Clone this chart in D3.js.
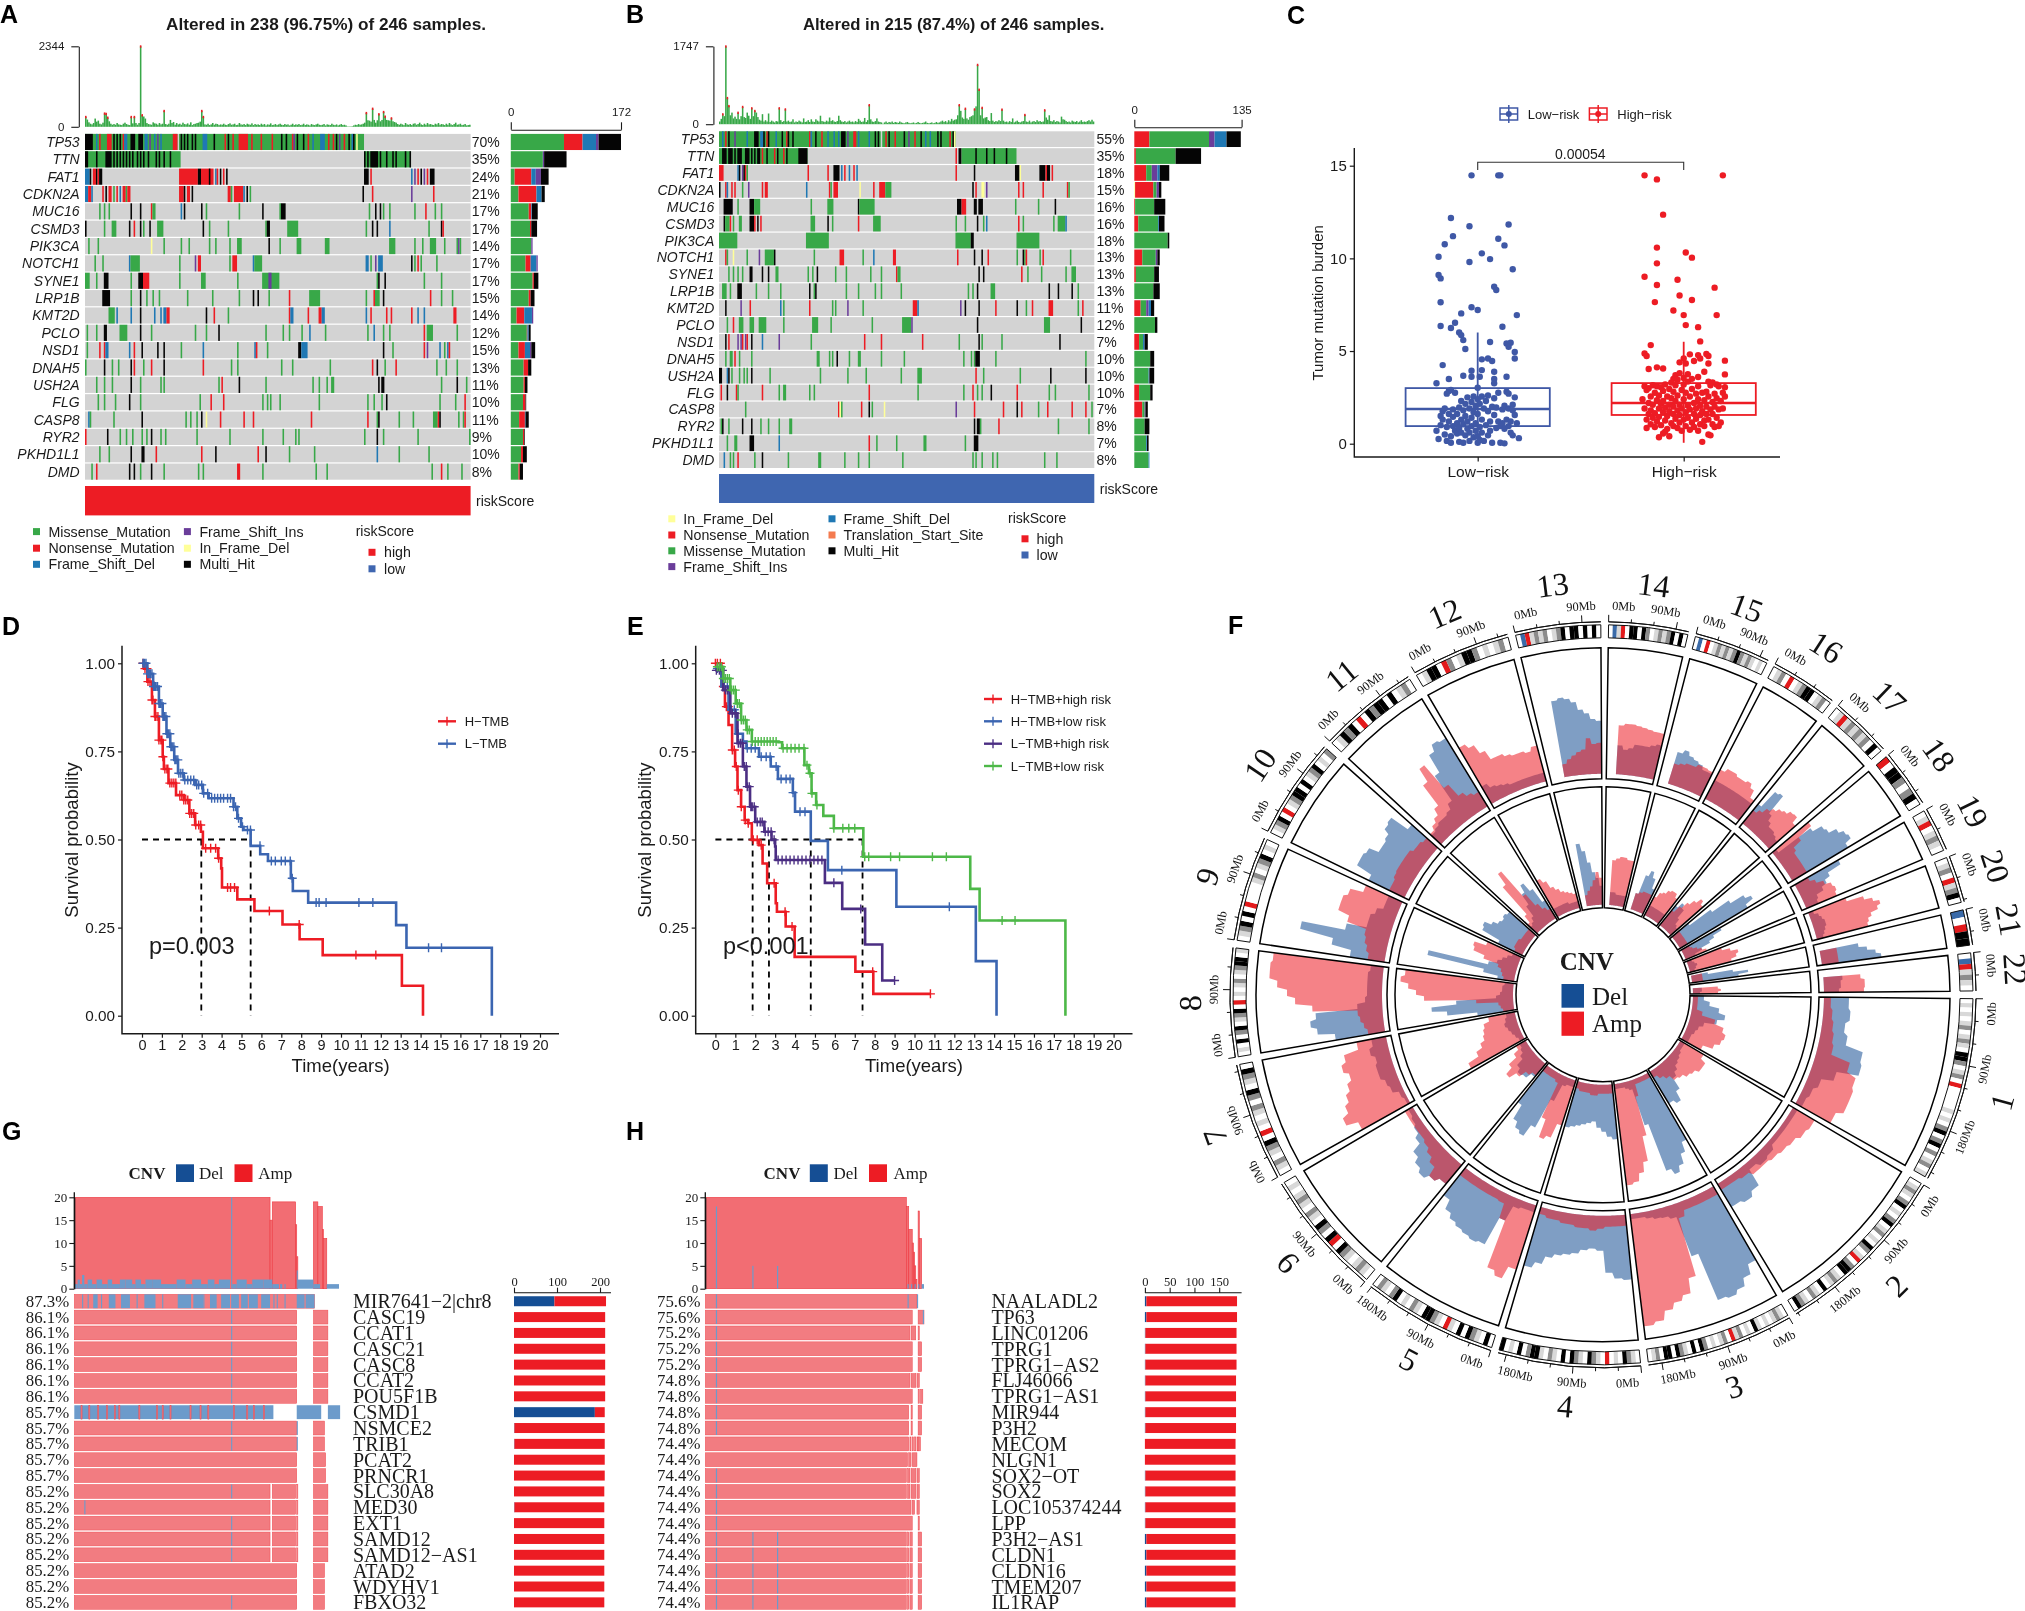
<!DOCTYPE html>
<html>
<head>
<meta charset="utf-8">
<script src="https://cdn.jsdelivr.net/npm/d3@7"></script>
<style>
  html, body { margin: 0; padding: 0; background: #fff; }
  svg { display: block; filter: blur(0.4px); }
</style>
</head>
<body>
<div id="frame_div"></div>
<script>
// Multi panel figure: oncoplots (A,B), TMB box (C), survival (D,E), circos CNV (F), CNV matrices (G,H)

const SANS = "'Liberation Sans', Arial, sans-serif";
const SERIF = "'Liberation Serif', 'Times New Roman', serif";

// ---------- panel A / B data ----------
const genesA = ["TP53","TTN","FAT1","CDKN2A","MUC16","CSMD3","PIK3CA","NOTCH1","SYNE1","LRP1B","KMT2D","PCLO","NSD1","DNAH5","USH2A","FLG","CASP8","RYR2","PKHD1L1","DMD"];
const pctA = [70,35,24,21,17,17,14,17,17,15,14,12,15,13,11,10,11,9,10,8];
const pctB = [55,35,18,15,16,16,18,13,13,13,11,12,7,10,10,10,7,8,7,8];

// type letter + sample index (or range): m missense, n nonsense, b fs del, p fs ins, y in frame del, k multi hit
const onco_A = [
  "m0-58 m60-177 k0-4 b7 n9 n14-16 k18 k20 k22 n24 b25-26 k29-31 k34-36 b38-39 p41 b44 p46 b48 n56-58 k61 k63 k65 k68 k70 b75-77 k82 n89 k91 n94 n98-103 n106 n112 n119 k125 k128 n132 p133 k135 k139 n142 b145 b150-152 n155 n158 k160 p162 n165 k168 b170 k171 y173",
  "m0-60 k0-1 k7 k13-16 k18 k20 k22 k24 k26 k28 k30 k33 k35 k37 k40 k45 k47 k50 k54 m178-207 k178 k180 k182-186 k188 k192 k196 k198 k204 k207",
  "b0-2 k3 n5-6 k7 n8 k9-10 n60-71 k72-73 n74-81 k79 b83 n84 k86 n88 k90 k178-180 n182 b208 p210 n212 k214 p216 n218 k220-222",
  "b0-1 n2-3 b4 n11 k13 n15-16 m18 n20 b22 n24-25 m26 n27-28 n60-62 k63 n65-66 k68 n91-92 m93 n95-100 b101 k103 m105 k177 n183 p208 n222",
  "m9 m12 m15 k29 k35 n42 m43-44 b61 k63 k74 m77 m98 k113 m124 k125-127 m181 k185 k188 m190 m194 m210 n217 m223 m227",
  "k0 m12 m17-19 k28 n31 k35 m37 k41 m46-49 k75 m79 m91 m115 k116-117 m129-135 m179 k183 k186 b194 m219 k227 n228",
  "m2 m8 y42 m50 m61 m66 m79 m83 m92 m97-99 k117 m124 m135-137 m153-155 m194-197 m210 m215 m220-223 m229 m237 p238 m239",
  "m6 m11 b28 m29-34 m60 p70 n72-73 m92 n94-96 b107 m108-112 b179-180 m182 p185 b187-189 k208 m210 n212 m214 m224",
  "m0-2 m7 k12-14 m29 k34-36 n37-40 m60 m74-76 m97 m113-123 p117-118 m186 k187 k191 m216 m227",
  "k11-15 m29 k35 m39 m43 m47 m65 m81 m98 k107 k110 m117 n130 m143-149 m179 n184 m185-187 k190 n220 m227 m234",
  "m15-18 b20 b29 k35 b44 b48 b50-51 n52-53 k77 n82 m91 n130 b131-132 n142 n149-150 b151-152 b179 n182 n192 n195 n208 b212 b216 n235-236",
  "m1 m7 k12-13 m22-26 k35 m42 m70 m77 k85 m115 m126 m130 m138 b143 m153 m180 b184 m190 m194 n216 m218-221 m237",
  "m1 n9 n12 b13-14 b28 n31 k36 k46 k50 m61 b75 m97 b108 n109 m116 k136-137 b138-141 k190 m196 n216 p218 b226 m229 b231 n232",
  "m0 k12 m17 m21 k29 n31 m37 n42 k50 n75 m93 m97 m125 m132 m156 n183 k186 m191 n198 m224 m230 m237",
  "m7 m12 m17 k29 m35 m48 m50 m85 n87 k98 m115 m145 m149 m154 m157-158 k187 k189-190 m227 k237 m243",
  "m8 m12 m19 k28 m35 m73 n80 n88 m113 m116 m118 m124 m149 m180 m184 m189 k192 m226 m236 n242",
  "b2 m3 m18 k36 m64 m67 m71 k74 y77 n86 n101 n107 n144 n180 m186 k187 m200 m209 m222-224 n225 k226 m238 m241 n242",
  "n0 k14 m22 m26 m30 m36 m39 k42 m48 m51 m71 m92 m113 m126 m134 m136 m178 k186 m190 m212 m245",
  "m9 m15 k29 k36-37 n45 n74 k83 n110 k115 m130 m146 b186 m200 m219",
  "m4 n7 k28 k31 m35 k42 m50 m72 m75 n97-98 m113 m147 m154 m221 n227 m231 m240"
];
const onco_B = [
  "m0-105 m107-154 b2 n4 k6 p10 b18 k23-25 b27-28 k29 n31 k32 b37 k41 n44 k45 k48 n59 b60 k63 n67 b71 b75 b78 k80-82 p84 n88-89 b91 b98 k102 k104 n109 k111 n115 k121 p124 n128 k132 b135 b138 k143 k145 n151 k153 y154",
  "m0-57 k2-4 k6-8 k10 k12-14 k17-19 k21 k23 k25-26 n28 k31 n36 k38 n42 k44 k52-57 n155 k157-158 m159-194 k168 k175 k180 k188",
  "n0-2 b12 k13 p15 k16 n17 m18 n58 n71 k75-78 b80 n82 b85 n88 b90 n155 k167 k194-196 y197 k210-213 n214 k215-216 n218",
  "k0 n4 b5 n8 n10 m15 p19 n28 n30-31 b57 n72 m73 n75-77 y92 n101 n105-108 m109-112 k166 n168 y172-173 p175 n196 n199 n212 n228 m229",
  "k3-8 m12 k20-22 m23-26 m60 m71-74 k91 m92-101 k156-158 n159-161 k167-168 k170-172 m194 m209 k220",
  "k3 m4-6 n7 m9 m13-14 k20-22 n23 k25 n27 m60-62 k71 m74 n91 m101-105 m155 m161 k169 m173 b175 n196 m199 m219 m222-226 b227",
  "m0-11 m57-71 m155-164 k165-166 m195-209",
  "n4 m5 y9 m18 p26 m30-35 k36 m62 n79-81 m94 b101 n114-115 n156 k167 k172 n176 m195 k199 m200 n201 m210 n212 m230",
  "m6 m9 m12 m15 k20-21 k28 k32 m37-38 m58 m61 k64 m76 m83 m99 m106 n116 m117-118 k170 k173 n198 m202 m211 m227 m231-233",
  "m2-4 m7 k12-14 m24 m32 m40 k59 m62 k63 m83 m91 m102 m106 m119 m163 m166 k169 m178-180 k216 k222 k231 m235",
  "k4 p14 n20 b40 m42 n59 m74 m76 p84 m94 n127-129 b130 p158 k161 k170 n181 k195 m201 n205 n216-218 m235 n238",
  "m5 n9 m13-15 m20-22 m26-30 m42 m61-64 m73 m100 m120-125 p126 k169 m213-216 k237",
  "k4 n6 p12 p14 n15 p17 n18 k21 b28 p39 m60 n95 n106 n133 m157 k170 m172 m185 k223",
  "m4 m7-8 n10 m13 m21 m64-65 m72 m74 k77 m85 m91-92 m106 m121 m160 m165 m167 k168-170 m181 m240",
  "k0-1 b5 k6 m8 m13 m16 m18 k21 m33 m66 m84 m96 m119 m130-132 n168 m173 m197 k217 k240",
  "n1 k5 n11 m12 n28 m39 m42-43 m59 m62 n98 m130 m160 n166 m169 m172 k178 n195 m216 m220 m242",
  "m17 n78 y79 m80 n93 k98 m100 y108 p155 n167 n186 k195 n198 m209 n215 n231 n240 m244",
  "m1 k2 m6 k15 k21 m27 m32 m39 m46-47 k167 k169-170 m171 n183 m222 m242",
  "m5 m10-11 k20-22 b39 n98 m103 m116 m134-135 m161 k167-169",
  "b3 m7 m9 n12 m23 k28 m45 m65-66 m82 m91 m98 m120 m166 m168 m172 m179 m182 m213 m221"
];
// right hand stacked counts per gene
const sideA = ["m83 n29 b21 p4 k35","m50 p2 k35","m6 n26 b7 p8 k12","m12 n28 b8 k5","m28 n4 b1 k9","m30 n2 k9","m32 p2","m23 n8 b9 p2","m34 n2 k7","m28 n3 k6","m9 n12 b12 p2","m25 n1 b2 k3","m12 n10 b8 p2 k6","m20 n7 k5","m20 n2 k4","m19 n4 k1","m13 n9 b1 k5","m19 n2 k1","m16 n3 k6","m12 n2 k5"];
const sideB = ["n19 m75 p7 b15 k18","n2 m50 k32","n15 m7 p7 b3 k12","y1 n23 m4 p3 k3","n1 m24 k14","n5 m25 b1 k7","m42 k2","n10 m17 p2 k3","n2 m23 k6","m24 k8","n8 m7 p3 b3 k4","m26 k3","n6 m5 b2 k4","m20 k5","m18 b1 k6","n6 m14 k3","n10 m3 p1 k3","m13 k6","m15 b1 k2","m18 b1"];

// mutations per sample, top bars
const tmbA = [
  290,210,130,90,70,110,240,150,180,90,
  70,120,390,380,270,160,90,60,80,60,
  110,70,60,50,90,120,80,60,50,290,
  100,290,110,60,110,2344,340,300,240,110,
  80,70,60,130,100,90,60,110,70,90,
  465,80,60,90,200,110,140,60,110,70,
  90,60,120,80,70,100,60,130,50,80,
  90,110,120,150,465,290,70,60,90,50,
  70,110,60,90,80,50,70,60,90,60,
  50,80,100,60,70,90,50,60,110,70,
  60,80,50,90,70,60,100,50,80,60,
  70,50,90,60,80,40,70,60,100,50,
  60,80,50,70,90,60,50,80,60,70,
  40,60,90,50,70,60,80,50,60,90,
  50,70,60,40,80,60,50,70,90,60,
  50,60,80,40,70,60,50,90,60,50,
  70,40,60,80,50,60,40,10,10,10,
  15,40,60,50,80,60,70,90,120,405,
  190,180,150,530,200,120,190,370,160,200,
  435,300,200,190,180,250,160,140,120,80,
  60,90,70,50,110,70,60,80,50,90,
  100,60,80,120,70,50,90,60,110,70,
  80,60,50,90,70,110,60,80,70,50,
  90,60,110,70,50,80,120,60,70,90,
  50,60,80,40,50,60
];
const tmbB = [
  60,120,225,180,1747,590,410,200,260,130,
  170,120,260,110,180,390,160,140,260,190,
  120,360,180,300,260,160,100,80,225,60,
  90,60,240,50,80,60,40,70,60,360,
  90,50,70,335,60,80,50,60,110,40,
  60,50,80,60,40,130,50,60,90,50,
  110,60,50,110,80,60,190,70,60,50,
  80,60,150,70,90,60,50,70,190,90,
  60,50,70,40,60,80,50,60,40,70,
  50,120,80,50,60,140,50,90,430,110,
  60,50,70,130,60,50,40,10,40,60,
  30,50,40,60,30,50,40,30,60,40,
  30,20,40,50,30,20,30,40,20,30,
  50,30,20,30,40,60,30,20,30,40,
  20,30,50,30,40,60,80,50,70,40,
  90,60,120,80,100,110,200,430,300,150,
  120,350,130,100,160,180,200,335,400,1333,
  776,200,370,130,150,160,90,70,250,80,
  50,70,60,90,70,330,80,50,60,40,
  70,50,130,40,60,80,50,40,60,70,
  210,60,50,80,40,60,70,50,90,60,
  70,50,60,315,150,100,200,70,60,90,
  50,70,60,40,170,110,100,70,50,60,
  40,80,60,50,70,40,60,90,50,60,
  50,70,90,60,100,60
];
// [sample, nonsense count] for the red caps on the top bars
const capsA = [[0,40],[12,40],[13,40],[14,30],[29,40],[31,40],[35,50],[36,40],[50,50],[74,50],[75,30],[179,40],[183,50],[187,40],[190,50],[191,30],[195,30]];
const capsB = [[2,30],[4,50],[5,40],[6,30],[12,30],[15,40],[21,40],[23,30],[39,40],[43,40],[98,40],[157,40],[161,40],[167,40],[169,60],[170,50],[172,40],[185,40],[200,30],[213,40]];

const mutColors = {m:"#38A848", n:"#ED1C24", b:"#1F78B4", p:"#6A3D9A", y:"#FFFF99", k:"#050505", t:"#F47B4F"};

// ---------- panel C data ----------
const tmbGroups = ["Low−risk","High−risk"];
const boxLow = {q1:0.95, med:1.87, q3:3.0, lo:0, hi:6.0};
const boxHigh = {q1:1.55, med:2.2, q3:3.27, lo:0.05, hi:5.5};
// [jitter, tumor mutation burden]
const pointsLow = [[-.03,14.48],[.10,14.48],[.11,14.48],[-.13,12.18],[-.04,11.73],[.15,11.83],[-.12,11.2],[.10,11.06],[-.16,10.76],[.13,10.7],[-.19,10.09],[.02,10.27],[.06,9.96],[-.04,9.8],[.17,9.41],[-.19,9.1],[-.18,8.92],[.08,8.47],[.09,8.29],[-.18,7.63],[-.03,7.36],[0,7.21],[-.08,7.03],[.19,6.94],[-.18,6.35],[-.11,6.53],[-.13,6.24],[.12,6.31],[-.09,6.0],[-.08,5.86],[-.07,5.59],[.06,5.49],[.14,5.41],[.16,5.45],[.15,5.23],[-.06,5.11],[.18,4.95],[.18,4.6],[.02,4.55],[.05,4.6],[.07,4.46],[-.17,4.24],[-.03,3.94],[.02,3.97],[.08,3.88],[-.07,3.67],[-.03,3.61],[.01,3.61],[.14,3.61],[-.14,3.49],[.08,3.49],[-.2,3.26],[.08,3.26],[0,3.02],
  [-.2,.7],[-.19,.25],[-.18,1.0],[-.18,1.5],[-.17,1.75],[-.17,1.3],[-.16,.5],[-.16,1.9],[-.15,.15],[-.15,2.7],[-.15,.9],[-.14,1.2],[-.14,1.6],[-.14,2.85],[-.13,.4],[-.13,.05],[-.13,2.9],[-.12,.95],[-.12,1.45],[-.12,1.85],[-.11,.7],[-.11,2.75],[-.1,1.1],[-.1,.55],[-.1,1.6],[-.09,.1],[-.09,1.95],[-.09,.85],[-.08,1.3],[-.08,.6],[-.08,2.3],[-.07,.05],[-.07,1.05],[-.07,1.8],[-.06,.45],[-.06,2.15],[-.06,1.5],[-.05,.8],[-.05,2.5],[-.05,1.2],[-.04,.15],[-.04,1.9],[-.04,.6],[-.03,2.25],[-.03,1.4],[-.03,.95],[-.02,2.55],[-.02,1.7],[-.02,.35],[-.01,2.05],[-.01,1.1],[-.01,.7],[0,.05],[0,2.4],[0,1.6],[0,.4],[.01,.9],[.01,2.15],[.01,.2],[.02,1.3],[.02,2.55],[.02,.6],[.03,1.9],[.03,.15],[.04,1.0],[.04,2.3],[.05,.45],[.05,1.75],[.05,2.6],[.06,1.2],[.06,.7],[.07,2.0],[.07,.05],[.08,2.45],[.08,1.55],[.09,.85],[.09,1.95],[.1,1.2],[.1,2.75],[.11,.95],[.11,.05],[.12,1.85],[.12,1.1],[.13,.8],[.13,2.05],[.13,.02],[.14,2.8],[.14,1.3],[.15,.95],[.15,1.9],[.15,2.7],[.16,.6],[.16,1.2],[.17,.45],[.17,2.1],[.17,1.8],[.18,2.5],[.18,1.55],[.19,1.1],[.2,.3]];
const pointsHigh = [[-.19,14.48],[-.13,14.26],[.19,14.48],[-.10,12.36],[-.13,10.58],[.01,10.32],[.04,10.04],[-.13,9.73],[-.19,9.01],[-.03,8.85],[-.13,8.56],[.15,8.42],[-.02,8.0],[.04,7.75],[-.14,7.64],[-.05,7.19],[0,6.94],[.16,6.94],[.01,6.4],[.07,6.29],[.08,5.52],[-.16,5.32],[-.19,4.87],[-.18,4.73],[.03,4.82],[.07,4.78],[.11,4.84],[.12,4.73],[.08,4.6],[0,4.6],[.05,4.46],[.2,4.48],[-.02,4.39],[.01,4.33],[.12,4.33],[-.17,4.03],[-.13,4.12],[-.1,4.06],[.1,3.88],[.2,3.74],[-.04,3.7],[-.02,3.8],[.02,3.75],[.07,3.6],[-.05,3.5],[0,3.55],[.12,3.35],[.16,3.2],[.14,3.3],
  [-.2,2.4],[-.19,3.1],[-.19,1.9],[-.18,1.3],[-.18,2.9],[-.18,.85],[-.17,1.6],[-.17,2.2],[-.17,3.0],[-.16,1.05],[-.16,2.55],[-.16,1.8],[-.15,3.15],[-.15,1.4],[-.15,2.1],[-.14,2.75],[-.14,.9],[-.14,1.65],[-.13,2.35],[-.13,3.1],[-.13,1.2],[-.12,1.9],[-.12,2.6],[-.12,.35],[-.12,1.45],[-.11,3.05],[-.11,2.15],[-.11,1.0],[-.1,1.7],[-.1,2.85],[-.1,.55],[-.1,2.3],[-.09,1.25],[-.09,.65],[-.09,3.2],[-.09,1.95],[-.08,2.55],[-.08,1.5],[-.08,.8],[-.07,2.95],[-.07,2.1],[-.07,.4],[-.07,1.75],[-.06,1.1],[-.06,2.45],[-.06,3.3],[-.05,1.6],[-.05,.95],[-.05,2.8],[-.05,2.0],[-.04,1.35],[-.04,3.15],[-.04,2.3],[-.03,1.8],[-.03,.85],[-.03,2.6],[-.03,3.45],[-.02,1.15],[-.02,2.1],[-.02,1.55],[-.01,2.9],[-.01,.7],[-.01,1.9],[0,3.2],[0,1.3],[0,2.4],[.01,1.7],[.01,.95],[.01,2.75],[.02,2.05],[.02,1.4],[.02,3.35],[.03,.75],[.03,2.55],[.03,1.85],[.04,1.15],[.04,2.95],[.04,3.5],[.05,1.6],[.05,2.2],[.05,.9],[.06,2.7],[.06,1.35],[.06,1.9],[.07,.7],[.07,2.4],[.07,3.1],[.08,1.55],[.08,1.05],[.08,2.05],[.09,2.75],[.09,.1],[.09,1.75],[.1,1.25],[.1,2.35],[.1,.95],[.11,2.8],[.11,1.6],[.11,2.0],[.12,.5],[.12,2.55],[.12,1.3],[.13,1.85],[.13,3.15],[.13,.45],[.14,2.25],[.14,1.05],[.14,1.6],[.15,2.7],[.15,.9],[.15,2.0],[.16,1.4],[.16,2.45],[.17,3.1],[.17,1.85],[.17,.95],[.18,2.3],[.18,1.15],[.19,2.75],[.19,1.9],[.2,2.55],[.2,3.05]];

// ---------- panel D / E data: [time, survival] steps ----------
const d_hTmb = [[0,1],[.1,.985],[.27,.948],[.5,.896],[.65,.849],[.85,.782],[1.04,.735],[1.1,.70],[1.33,.66],[1.71,.626],[2.1,.612],[2.38,.574],[2.67,.541],[2.96,.522],[3.06,.475],[3.44,.475],[3.83,.447],[3.98,.418],[4.02,.364],[4.79,.33],[5.65,.297],[7.06,.259],[7.92,.217],[9.08,.172],[13.06,.085],[14.12,0]];
const d_lTmb = [[0,1],[.27,.97],[.56,.934],[.85,.886],[1.04,.849],[1.23,.80],[1.42,.763],[1.62,.726],[1.81,.688],[2.1,.669],[2.67,.655],[3.06,.631],[3.35,.617],[4.4,.617],[4.6,.593],[4.79,.56],[4.98,.536],[5.1,.527],[5.46,.482],[5.94,.458],[6.33,.439],[7.38,.439],[7.48,.39],[7.58,.354],[8.35,.321],[12.77,.257],[13.29,.193],[17.58,0]];
const d_hCens = [.05,.15,.25,.3,.4,.5,.55,.65,.7,.8,.85,.95,1.0,1.05,1.15,1.25,1.3,1.4,1.5,1.6,1.7,1.9,2.0,2.1,2.2,2.3,2.4,2.5,2.6,2.7,2.85,2.95,3.2,3.45,3.7,3.85,4.3,4.45,4.65,6.4,7.9,10.75,11.75];
const d_lCens = [.05,.12,.2,.28,.35,.42,.5,.58,.65,.7,.78,.85,.92,1.0,1.05,1.12,1.2,1.25,1.32,1.4,1.45,1.52,1.6,1.65,1.72,1.8,1.85,1.95,2.05,2.15,2.3,2.45,2.6,2.75,2.85,3.0,3.1,3.3,3.5,3.65,3.8,3.95,4.1,4.3,4.45,4.6,4.7,4.85,5.05,5.3,5.45,5.93,6.5,6.7,7.0,7.2,7.45,7.55,8.75,8.9,9.25,10.9,11.6,14.4,15.05];
const d_medians = [2.98,5.46];

const e_hh = [[0,1],[.3,.934],[.48,.877],[.66,.825],[.84,.754],[.99,.707],[1.11,.64],[1.29,.593],[1.47,.555],[1.65,.546],[1.83,.499],[2.19,.484],[2.37,.432],[2.6,.376],[3.03,.319],[3.09,.295],[3.53,.253],[3.98,.167],[7.03,.125],[7.93,.062],[10.8,.062]];
const e_hl = [[0,.985],[.3,.934],[.66,.868],[1.02,.80],[1.38,.778],[1.56,.759],[2.19,.735],[2.78,.707],[3.14,.672],[3.89,.633],[4.0,.579],[4.79,.496],[5.65,.413],[9.09,.309],[13.08,.155],[14.12,0]];
const e_lh = [[0,.98],[.39,.924],[.75,.858],[1.11,.773],[1.38,.707],[1.56,.65],[1.74,.593],[2.0,.55],[2.46,.522],[2.82,.499],[3.0,.48],[3.03,.442],[5.5,.377],[6.37,.303],[7.52,.202],[8.38,.1],[9.0,.1]];
const e_ll = [[0,.99],[.39,.957],[.75,.924],[1.02,.886],[1.29,.839],[1.56,.811],[1.83,.778],[3.17,.776],[3.35,.759],[4.34,.759],[4.47,.711],[4.7,.688],[4.83,.631],[5.06,.598],[5.42,.567],[5.95,.532],[7.43,.451],[12.8,.36],[13.27,.27],[17.58,0]];
const e_hhCens = [0,.1,.25,.4,.55,.65,.85,.95,1.05,1.15,1.3,1.5,1.65,1.9,2.1,2.3,2.95,3.5,3.85,7.9,10.8];
const e_hlCens = [.1,.25,.45,.6,.8,.95,1.15,1.4,1.6,1.8,2.0,2.3,2.55,2.75,3.05,3.3,3.55,3.75,3.9,4.25,4.5,6.35,11.75];
const e_lhCens = [.05,.2,.35,.5,.6,.7,.85,1.0,1.15,1.25,1.35,1.45,1.55,1.6,1.7,1.78,1.85,1.95,2.1,2.25,2.35,2.5,2.65,2.8,2.95,3.15,3.35,3.55,3.75,3.95,4.15,4.35,4.55,4.75,4.95,5.15,5.35,5.95,7.3,9.0];
const e_llCens = [.1,.2,.3,.4,.5,.6,.7,.8,.9,1.0,1.1,1.2,1.3,1.4,1.5,1.6,1.7,1.85,2.0,2.15,2.3,2.45,2.6,2.75,2.9,3.05,3.4,3.6,3.8,4.0,4.2,4.45,4.6,4.75,4.85,5.1,5.95,6.4,6.7,7.0,7.5,7.7,8.8,9.25,10.9,11.6,14.4,15.05];
const e_medians = [1.87,2.69,4.79,7.39];

// ---------- panel F data ----------
const chrNames = ["1","2","3","4","5","6","7","8","9","10","11","12","13","14","15","16","17","18","19","20","21","22"];
const chrLens = [249,243,198,191,181,171,159,146,141,135,135,133,115,107,102,90,83,78,59,63,48,51];
// one character per band: w white, l light, g gray, d dark, k black, r centromere, b stalk
const chrBands = [
  "wlwlwlgwlglwkkgwlgwrwwwwwlwlwgkwgkwgwlgwl","wlglwgkwlwgkwlgwlwkgwlrwgkkwlglwkwlgwlgkw","wlglwlwlkwlwglrwglwlwgkwkwlgkwkkwglw","wlgkwlwrwlgkwlgkwkwlgwlkkgwkwlwk",
  "wkwlgkwkwlrwlgkkwlgwlwkgwlgw","wlglwlgkwrkwgkwlgwlglwlw","wlgwlgkwrwlwlgwgkwlgkw","wlwkwgkwlgkwrwlwlgwlgkkwl",
  "wlgkwkwrwwwwlgwlgkwlw","wlgkwrwlgkkwkwlgkwlwg","wlkgkwrwkgkkwkwlgw","wlkkwrgwlkkgwlwlgw",
  "wbrlglgwlgkwkkwkwkw","wblrwkkwkgwlglgkwkw","wbwrwlglglgkglglwlw","wlgwrwlgkkwlgw","wlrlglglgwkw",
  "rwkkgwgkw","wlrwlglw","wlgwrlgkw","bwrkk","wbrlglw"
];
// profile heights along each chromosome, outer track (px-like units, 0-131)
const outerAmp = [
  [12,14,16,18,20,40,50,52,52,45],[30,28,24,22,20,18,18,14,12,12],[14,14,14,14,14,20,80,95,100,106,115,118],[16,16,16,18,20,18,18,16,16,14,14,12],
  [72,85,80,30,15,14,14,14,14,14,14],[30,35,25,20,16,14,14,14,14],[60,72,65,60,55,50,55,50,35],[22,25,28,30,75,92,100,110,118,118,116],
  [22,25,28,30,50,62,62,58,45],[22,22,24,25,25,25,25,22,22,20],[20,24,28,35,60,75,45,30,25,22],[70,65,55,45,45,42,40,40,38,42],
  [null,null,null,18,22,25,28,30,41,35,36],[null,null,54,56,56,55,54,53,52,52],[null,null,26,28,30,30,33,33,32],[38,42,42,40,40,42,38,30],
  [22,26,32,36,40,42,46,47,40],[52,35,25,22,22,22,22,22],[20,25,32,38,40,38],[45,62,70,76,72,64,60,58],[null,null,22,22,22,22],[null,null,42,46,46,45]
];
const outerDel = [
  [30,32,28,32,50,52,30,18,14,12],[10,10,10,10,14,16,12,30,35,32],[90,100,108,112,110,60,18,15,14,12,10,10],[70,68,62,40,38,40,44,46,48,52,60,66],
  [12,12,14,30,60,62,60,58,55,50,40],[30,35,40,36,30,20,15,12,10],[8,10,16,18,22,22,20,24,20],[55,72,78,72,30,22,20,20,20,20,18],
  [40,60,94,50,30,30,26,20,20],[45,62,62,60,50,50,52,58,60,40],[18,20,22,22,24,30,60,80,87,85],[25,20,18,16,14,14,14,14,14,14],
  [null,null,null,82,84,82,78,70,66,60,58],[null,null,34,30,32,36,36,36,38,40],[null,null,38,42,38,36,34,30,30],[26,26,26,26,26,26,26,26],
  [30,50,52,30,24,20,20,18,16],[10,50,60,62,70,75,77,70],[55,40,34,28,20,18],[10,14,16,18,18,16,14,12],[null,null,44,52,60,65],[null,null,24,22,22,20]
];
// inner track (0-121)
const innerAmp = [
  [8,8,8,14,28,38,42,40,35,25],[30,36,36,32,30,26,24,18,14,10],[8,8,8,8,8,20,60,85,95,103,105],[12,12,12,12,14,14,12,12,12,10],
  [50,65,69,50,12,10,10,10,10],[18,22,30,38,30,20,14],[64,52,45,40,38,36,30],[14,16,18,40,92,100,108,116,112],
  [14,16,18,22,38,50,52,40],[12,14,14,14,12,12,12,12],[16,24,60,73,40,25,18,14],[45,40,32,28,24,22,20,18],
  [null,null,14,18,22,28,36,30],[null,null,48,50,52,52,50,50],[null,null,20,22,24,24,24],[24,30,32,36,38,38,34],
  [22,30,38,44,50,46],[12,12,12,12,12,12],[12,14,18,22,26],[40,48,55,52,46],[null,14,14,14,14],[null,null,28,31,28]
];
const innerDel = [
  [14,20,30,37,30,18,14,12,10,10],[8,8,10,12,14,18,22,34,44,40],[80,90,100,106,100,50,12,10,8,8,8],[58,55,50,46,40,42,44,46,48,50],
  [10,10,12,30,62,75,72,66,50],[20,26,28,24,16,12,10],[8,10,12,14,16,14,12],[40,70,85,60,20,16,14,14,12],
  [20,35,93,32,24,20,16,12],[30,50,52,45,40,38,40,38],[12,14,18,30,42,50,40,24],[12,12,12,12,12,10,10,10],
  [null,null,66,58,46,36,30,22],[null,null,16,16,14,14,14,14],[null,null,20,40,46,40,30],[14,14,14,14,14,14,14],
  [28,34,30,20,14,12],[24,50,70,85,91,82],[48,38,32,22,14],[8,10,12,10,8],[null,20,45,60,50],[null,null,12,12,10]
];

// ---------- panel G / H data ----------
const genesG = ["MIR7641−2|chr8","CASC19","CCAT1","CASC21","CASC8","CCAT2","POU5F1B","CSMD1","NSMCE2","TRIB1","PCAT2","PRNCR1","SLC30A8","MED30","EXT1","SAMD12","SAMD12−AS1","ATAD2","WDYHV1","FBXO32"];
const pctG = ["87.3%","86.1%","86.1%","86.1%","86.1%","86.1%","86.1%","85.7%","85.7%","85.7%","85.7%","85.7%","85.2%","85.2%","85.2%","85.2%","85.2%","85.2%","85.2%","85.2%"];
const delG = [94,0,0,0,0,0,0,188,1,1,0,0,0,1,0,0,0,0,0,0];
const ampG = [120,212,212,212,212,212,212,23,210,210,211,211,210,209,210,210,210,210,210,210];
const genesH = ["NAALADL2","TP63","LINC01206","TPRG1","TPRG1−AS2","FLJ46066","TPRG1−AS1","MIR944","P3H2","MECOM","NLGN1","SOX2−OT","SOX2","LOC105374244","LPP","P3H2−AS1","CLDN1","CLDN16","TMEM207","IL1RAP"];
const pctH = ["75.6%","75.6%","75.2%","75.2%","75.2%","74.8%","74.8%","74.8%","74.8%","74.4%","74.4%","74.4%","74.4%","74.4%","74.4%","74.4%","74.4%","74.4%","74.4%","74.4%"];
const delH = [3,3,1,1,1,1,1,1,1,0,0,1,1,1,1,3,3,3,3,3];
const ampH = [183,183,184,184,184,183,183,183,183,183,183,182,182,182,182,180,180,180,180,180];
// a amp / d del + sample range
const cnvG = [
  "a0-215 d7 d12 d17-20 d24 d31-36 d42-49 d56 d63-72 d79 d93-104 d107-115 d116 d122-127 d132-139 d141-147 d150-155 d157-164 d168-175 d179 d182 d189 d200-206 d208-215",
  "a0-199 a215-227 d141","a0-199 a215-227 d141","a0-199 a215-227 d141","a0-199 a215-227 d141","a0-199 a215-227 d141","a0-199 a215-227 d141",
  "d0-178 a6 a13 a21 a29 a36 a40 a58 a74 a79 a86 a104 a113 a120 a143 a155 a161 a170 d200-221 d228-238",
  "a0-199 d200 a215-224 d141","a0-199 d200 a215-224 d141","a0-199 a215-225","a0-199 a215-225",
  "a0-175 a178-198 a200 a215-227 d141","a0-175 a178-198 a200 a215-227 d9","a0-175 a178-198 a200 a215-227 d141","a0-175 a178-198 a200 a215-227 d141","a0-175 a178-198 a200 a215-227 d141",
  "a0-199 a215-224","a0-199 a215-224","a0-199 a215-224 d141"
];
const cnvH = [
  "a0-179 d9 d172 d180","a0-175 a181-185 d9 d185","a0-173 a175-178 a181 d9","a0-175 a181-183 d9","a0-175 a181-183 d9",
  "a0-173 a175-178 a180-181 d9","a0-175 a181 a183-184 d9","a0-172 a175 a181-183 d9","a0-172 a175 a181-183 d9",
  "a0-172 a174 a176 a178 a180 a181-182","a0-171 a173-174 a176-179","a0-170 a172-173 a175-178 a180-181 d9","a0-170 a172-173 a175-178 a180-181 d9",
  "a0-174 a176-177 a180-181 d9","a0-175 a181 d9",
  "a0-170 a172 a174-175 a181-183 d9 d40 d61","a0-170 a172 a174-175 a181-183 d9 d40 d61","a0-170 a172 a174-175 a181-183 d9 d40 d61","a0-170 a172 a174-175 a181-183 d9 d40 d61","a0-170 a172 a174-175 a181-183 d9 d40 d61"
];
// [from sample, to sample, count]
const topAmpG = [[0,176,20],[176,178,15],[178,199,19],[199,200,14],[200,201,7],[215,219,19],[219,223,18],[223,224,13],[224,227,11]];
const topDelG = [[0,3,1],[3,5,2],[5,7,1],[7,9,3],[9,12,1],[12,16,2],[16,20,1],[20,25,2],[25,30,1],[30,34,2],[34,41,1],[41,46,2],[46,52,2],[52,55,1],[55,60,2],[60,64,1],[64,70,2],[70,78,2],[78,92,1],[92,100,2],[100,106,1],[106,114,2],[114,120,1],[120,126,2],[126,130,1],[130,140,2],[141,142,20],[142,146,1],[146,155,2],[155,160,1],[160,170,2],[170,178,2],[178,184,1],[185,187,1],[189,190,1],[200,201,4],[201,215,2],[215,221,1],[227,238,1]];
const topAmpH = [[0,171,20],[171,173,18],[173,176,13],[176,177,10],[177,178,8],[178,179,5],[179,180,2],[181,182,17],[182,184,11]];
const topDelH = [[9,10,18],[40,41,5],[61,62,5],[172,173,1],[175,176,1],[178,179,1],[181,182,1],[184,186,1]];

const AMP = "#ED1C24", DEL = "#154E94", AMP_SOFT = "#F26D73", DEL_SOFT = "#6C9BCB";

// ---------- frame ----------
const FRAME = d3.select("#frame_div").append("svg")
  .attr("width", 2025).attr("height", 1611).attr("viewBox", "0 0 2025 1611");
FRAME.append("rect").attr("width", 2025).attr("height", 1611).attr("fill", "#fff");

function txt(g, x, y, s, o) {
  o = o || {};
  return g.append("text").attr("x", x).attr("y", y).text(s)
    .attr("font-family", o.font || SANS).attr("font-size", o.size || 14)
    .attr("font-weight", o.weight || "normal").attr("font-style", o.style || "normal")
    .attr("text-anchor", o.anchor || "start").attr("dominant-baseline", o.base || "central")
    .attr("fill", o.fill || "#1a1a1a")
    .attr("transform", o.rotate != null ? `rotate(${o.rotate} ${x} ${y})` : null);
}
function styleAxis(sel, font, size, width) {
  sel.selectAll("text").attr("font-family", font).attr("font-size", size).attr("fill", "#1a1a1a");
  sel.selectAll("line,path").attr("stroke", "#1a1a1a").attr("stroke-width", width);
}
function parseTok(t) {
  const m = t.match(/^([a-z])(\d+)(?:-(\d+))?$/);
  return {type: m[1], start: +m[2], end: m[3] ? +m[3] : +m[2]};
}
function panelLetter(x, y, s) { txt(FRAME, x, y, s, {size: 25, weight: "bold", base: "auto", fill: "#000"}); }

[["A",0,23],["B",626,23],["C",1287,24],["D",2,635],["E",627,635],["F",1228,634],["G",2,1140],["H",626,1140]]
  .forEach(d => panelLetter(d[1], d[2], d[0]));

// ---------- oncoplots ----------
function oncoplot(c) {
  const g = FRAME.append("g");
  const X = d3.scaleLinear().domain([0, 246]).range([c.x0, c.x1]);
  const Y = d3.scaleBand().domain(genesA).range([c.top, c.bottom]).paddingInner(0.07);
  const step = X(1) - X(0);

  txt(g, c.titleX, 24, c.title, {size: c.titleSize, weight: "bold", anchor: "middle"});

  // top bars
  const YT = d3.scaleLinear().domain([0, c.tmbMax]).range([c.topBase, c.topTop]);
  g.append("g").selectAll("rect").data(c.tmb).enter().append("rect")
    .attr("x", (d, i) => X(i)).attr("width", step)
    .attr("y", d => YT(d)).attr("height", d => YT(0) - YT(d))
    .attr("fill", mutColors.m);
  g.append("g").selectAll("rect").data(c.caps).enter().append("rect")
    .attr("x", d => X(d[0])).attr("width", step)
    .attr("y", d => YT(c.tmb[d[0]]) - 1).attr("height", 2.4)
    .attr("fill", mutColors.n);
  const ax = g.append("g").attr("transform", `translate(${c.axisX},0)`)
    .call(d3.axisLeft(YT).tickValues([0, c.tmbMax]).tickSize(7.5).tickSizeOuter(0).tickPadding(7).tickFormat(d3.format("d")));
  styleAxis(ax, SANS, 11.5, 1.1);

  // matrix
  g.append("g").selectAll("rect").data(genesA).enter().append("rect")
    .attr("x", c.x0).attr("width", c.x1 - c.x0)
    .attr("y", d => Y(d)).attr("height", Y.bandwidth()).attr("fill", "#D3D3D3");
  c.rows.forEach((row, i) => {
    const cells = row.split(" ").map(parseTok);
    g.append("g").selectAll("rect").data(cells).enter().append("rect")
      .attr("x", d => X(d.start)).attr("width", d => X(d.end + 1) - X(d.start))
      .attr("y", Y(genesA[i])).attr("height", Y.bandwidth())
      .attr("fill", d => mutColors[d.type]);
  });

  // labels
  genesA.forEach((gene, i) => {
    const yc = Y(gene) + Y.bandwidth() / 2;
    txt(g, c.labelX, yc, gene, {size: 14, style: "italic", anchor: "end"});
    txt(g, c.pctX, yc, c.pct[i] + "%", {size: 14});
  });

  // side bars
  const XS = d3.scaleLinear().domain([0, c.sideMax]).range([c.sideX0, c.sideX1]);
  c.side.forEach((row, i) => {
    let acc = 0;
    const stack = row.split(" ").map(t => {
      const p = parseTok(t), o = {type: p.type, a: acc, b: acc + p.start};
      acc += p.start; return o;
    });
    g.append("g").selectAll("rect").data(stack).enter().append("rect")
      .attr("x", d => XS(d.a)).attr("width", d => XS(d.b) - XS(d.a))
      .attr("y", Y(genesA[i])).attr("height", Y.bandwidth())
      .attr("fill", d => mutColors[d.type]);
  });
  const axs = g.append("g").attr("transform", `translate(0,${c.sideY})`)
    .call(d3.axisTop(XS).tickValues([0, c.sideMax]).tickSize(7.5).tickSizeOuter(0).tickPadding(6).tickFormat(d3.format("d")));
  styleAxis(axs, SANS, 11.5, 1.1);

  // risk bar
  g.append("rect").attr("x", c.x0).attr("width", c.x1 - c.x0)
    .attr("y", c.riskTop).attr("height", c.riskH).attr("fill", c.riskColor);
  txt(g, c.riskLabelX, c.riskTop + c.riskH / 2, "riskScore", {size: 14});

  // legend
  c.legend.forEach(d => {
    g.append("rect").attr("x", d[0] - 3.5).attr("y", d[1] - 3.5).attr("width", 7).attr("height", 7).attr("fill", d[3]);
    txt(g, d[0] + c.legendGap, d[1], d[2], {size: 14.2});
  });
  txt(g, c.rsTitle[0], c.rsTitle[1], "riskScore", {size: 14});
}

oncoplot({
  x0: 85, x1: 470.6, top: 133.9, bottom: 479.7, rows: onco_A, pct: pctA, side: sideA,
  title: "Altered in 238 (96.75%) of 246 samples.", titleX: 326, titleSize: 17.2,
  tmb: tmbA, tmbMax: 2344, caps: capsA, topBase: 126.8, topTop: 46.3, axisX: 78.8,
  labelX: 79.6, pctX: 471.8, sideMax: 172, sideX0: 510.8, sideX1: 621, sideY: 129.8,
  riskTop: 486, riskH: 29.4, riskColor: AMP, riskLabelX: 476, legendGap: 12,
  rsTitle: [355.7, 531.2],
  legend: [
    [36.5,531.6,"Missense_Mutation",mutColors.m],[36.5,548.2,"Nonsense_Mutation",mutColors.n],[36.5,564.3,"Frame_Shift_Del",mutColors.b],
    [187.4,531.6,"Frame_Shift_Ins",mutColors.p],[187.4,548.2,"In_Frame_Del",mutColors.y],[187.4,564.3,"Multi_Hit",mutColors.k],
    [372,552.3,"high",AMP],[372,568.8,"low","#3F66B0"]
  ]
});
oncoplot({
  x0: 719, x1: 1094.3, top: 131.3, bottom: 468, rows: onco_B, pct: pctB, side: sideB,
  title: "Altered in 215 (87.4%) of 246 samples.", titleX: 953.6, titleSize: 16.7,
  tmb: tmbB, tmbMax: 1747, caps: capsB, topBase: 124.2, topTop: 46.3, axisX: 713.4,
  labelX: 714.3, pctX: 1096.4, sideMax: 135, sideX0: 1134.3, sideX1: 1241.6, sideY: 127.2,
  riskTop: 474, riskH: 29, riskColor: "#3F66B0", riskLabelX: 1099.8, legendGap: 11.5,
  rsTitle: [1008, 518.4],
  legend: [
    [671.8,518.8,"In_Frame_Del",mutColors.y],[671.8,535,"Nonsense_Mutation",mutColors.n],[671.8,550.8,"Missense_Mutation",mutColors.m],[671.8,566.6,"Frame_Shift_Ins",mutColors.p],
    [832,518.8,"Frame_Shift_Del",mutColors.b],[832,535,"Translation_Start_Site",mutColors.t],[832,550.8,"Multi_Hit",mutColors.k],
    [1025,538.8,"high",AMP],[1025,555,"low","#3F66B0"]
  ]
});

// ---------- panel C ----------
(function () {
  const g = FRAME.append("g");
  const X = d3.scaleLinear().domain([0, 1]).range([1477.7, 1683.7]);
  const Y = d3.scaleLinear().domain([0, 15]).range([443.7, 165.7]);
  const colors = ["#3F58A6", AMP];
  [boxLow, boxHigh].forEach((b, i) => {
    const c = colors[i];
    const bg = g.append("g").attr("stroke", c).attr("fill", "none").attr("stroke-width", 1.8);
    bg.append("line").attr("x1", X(i)).attr("x2", X(i)).attr("y1", Y(b.lo)).attr("y2", Y(b.hi));
    bg.append("rect").attr("x", X(i - .35)).attr("width", X(.35) - X(-.35)).attr("y", Y(b.q3)).attr("height", Y(b.q1) - Y(b.q3));
    bg.append("line").attr("x1", X(i - .35)).attr("x2", X(i + .35)).attr("y1", Y(b.med)).attr("y2", Y(b.med)).attr("stroke-width", 2.4);
  });
  [pointsLow, pointsHigh].forEach((pts, i) => {
    g.append("g").selectAll("circle").data(pts).enter().append("circle")
      .attr("cx", d => X(i + d[0])).attr("cy", d => Y(d[1])).attr("r", 3.2).attr("fill", colors[i]);
  });
  const ay = g.append("g").attr("transform", "translate(1354.3,0)")
    .call(d3.axisLeft(Y).tickValues([0, 5, 10, 15]).tickSize(4.5).tickSizeOuter(0).tickPadding(3));
  ay.select(".domain").remove();
  styleAxis(ay, SANS, 15, 1.2);
  const ax = g.append("g").attr("transform", "translate(0,457)")
    .call(d3.axisBottom(X).tickValues([0, 1]).tickSize(4.5).tickSizeOuter(0).tickPadding(4).tickFormat((d, i) => tmbGroups[i]));
  ax.select(".domain").remove();
  styleAxis(ax, SANS, 15.5, 1.2);
  g.append("path").attr("d", "M1354.3,148V457H1780").attr("fill", "none").attr("stroke", "#1a1a1a").attr("stroke-width", 1.4);
  txt(g, 1317.7, 302.8, "Tumor mutation burden", {size: 15, anchor: "middle", rotate: -90});
  g.append("path").attr("d", `M${X(0)},170V162.3H${X(1)}V170`).attr("fill", "none").attr("stroke", "#333").attr("stroke-width", 1.1);
  txt(g, 1580.3, 154, "0.00054", {size: 14, anchor: "middle"});
  // legend keys
  [[1508.8, tmbGroups[0], 1527.7, colors[0]], [1598.2, tmbGroups[1], 1617.3, colors[1]]].forEach(d => {
    const k = g.append("g").attr("stroke", d[3]).attr("fill", "none").attr("stroke-width", 1.5);
    k.append("line").attr("x1", d[0]).attr("x2", d[0]).attr("y1", 105).attr("y2", 123);
    k.append("rect").attr("x", d[0] - 8.8).attr("y", 108).attr("width", 17.6).attr("height", 12);
    k.append("line").attr("x1", d[0] - 8.8).attr("x2", d[0] + 8.8).attr("y1", 114).attr("y2", 114);
    g.append("circle").attr("cx", d[0]).attr("cy", 114).attr("r", 3).attr("fill", d[3]);
    txt(g, d[2], 114, d[1], {size: 13});
  });
})();

// ---------- survival panels ----------
function km(c) {
  const g = FRAME.append("g");
  const X = d3.scaleLinear().domain([0, 20]).range([c.x0, c.x20]);
  const Y = d3.scaleLinear().domain([0, 1]).range([1015.7, 663.3]);
  const line = d3.line().x(d => X(d[0])).y(d => Y(d[1])).curve(d3.curveStepAfter);

  // median guides
  const guide = g.append("g").attr("stroke", "#000").attr("stroke-width", 1.8).attr("stroke-dasharray", "6,5").attr("fill", "none");
  guide.append("line").attr("x1", X(0)).attr("x2", X(d3.max(c.medians))).attr("y1", Y(.5)).attr("y2", Y(.5));
  c.medians.forEach(m => guide.append("line").attr("x1", X(m)).attr("x2", X(m)).attr("y1", Y(.5)).attr("y2", Y(0)));

  c.series.forEach(s => {
    g.append("path").datum(s.curve).attr("d", line).attr("fill", "none").attr("stroke", s.color).attr("stroke-width", 2.6);
    const bis = d3.bisector(d => d[0]).right;
    const cens = s.cens.map(t => [t, s.curve[Math.max(0, bis(s.curve, t) - 1)][1]]);
    g.append("path").attr("fill", "none").attr("stroke", s.color).attr("stroke-width", 1.4)
      .attr("d", cens.map(d => `M${X(d[0]) - 4.5},${Y(d[1])}h9M${X(d[0])},${Y(d[1]) - 4.5}v9`).join(""));
  });

  const ay = g.append("g").attr("transform", `translate(${c.axisX},0)`)
    .call(d3.axisLeft(Y).tickValues([0, .25, .5, .75, 1]).tickFormat(d3.format(".2f")).tickSize(4).tickSizeOuter(0).tickPadding(3));
  ay.select(".domain").remove();
  styleAxis(ay, SANS, 15.3, 1.2);
  const ax = g.append("g").attr("transform", "translate(0,1033.7)")
    .call(d3.axisBottom(X).tickValues(d3.range(0, 21)).tickFormat(d3.format("d")).tickSize(4).tickSizeOuter(0).tickPadding(2));
  ax.select(".domain").remove();
  styleAxis(ax, SANS, 14.5, 1.2);
  g.append("path").attr("d", `M${c.axisX},645.7V1033.7H${c.axisEnd}`).attr("fill", "none").attr("stroke", "#1a1a1a").attr("stroke-width", 1.5);

  txt(g, c.timeX, 1065, "Time(years)", {size: 18.5, anchor: "middle"});
  txt(g, c.ylabX, 840, "Survival probability", {size: 18.5, anchor: "middle", rotate: -90});
  txt(g, c.pX, 946, c.p, {size: 23.5});

  c.series.forEach((s, i) => {
    const y = c.legendY[i];
    g.append("line").attr("x1", c.legendX).attr("x2", c.legendX + 18).attr("y1", y).attr("y2", y).attr("stroke", s.color).attr("stroke-width", 2.4);
    g.append("line").attr("x1", c.legendX + 9).attr("x2", c.legendX + 9).attr("y1", y - 4.5).attr("y2", y + 4.5).attr("stroke", s.color).attr("stroke-width", 1.4);
    txt(g, c.legendX + 26.7, y, s.name, {size: 13});
  });
}
km({
  x0: 142, x20: 540, axisX: 122, axisEnd: 559, timeX: 340.6, ylabX: 71, pX: 149, p: "p=0.003",
  medians: d_medians, legendX: 438, legendY: [721.3, 743.7],
  series: [
    {name: "H−TMB", color: AMP, curve: d_hTmb, cens: d_hCens},
    {name: "L−TMB", color: "#3B65B1", curve: d_lTmb, cens: d_lCens}
  ]
});
km({
  x0: 715.4, x20: 1113.6, axisX: 695.7, axisEnd: 1132.5, timeX: 914, ylabX: 644.6, pX: 723, p: "p<0.001",
  medians: e_medians, legendX: 984, legendY: [699, 721.3, 743.7, 766],
  series: [
    {name: "H−TMB+high risk", color: AMP, curve: e_hh, cens: e_hhCens},
    {name: "H−TMB+low risk", color: "#3B65B1", curve: e_hl, cens: e_hlCens},
    {name: "L−TMB+high risk", color: "#4B2E83", curve: e_lh, cens: e_lhCens},
    {name: "L−TMB+low risk", color: "#4DB848", curve: e_ll, cens: e_llCens}
  ]
});

// ---------- circos ----------
(function () {
  const g = FRAME.append("g").attr("transform", "translate(1603,994.8)");
  const rad = d => d * Math.PI / 180;
  const widthAngle = d3.scaleLinear().domain([0, d3.sum(chrLens)]).range([0, 333.6]);
  const R1 = d3.scaleLinear().domain([0, 121]).range([87, 208]);
  const R2 = d3.scaleLinear().domain([0, 131]).range([216, 347]);
  const bandFill = {w:"#fff", l:"#D8D8D8", g:"#8C8C8C", d:"#444", k:"#000", r:"#E31A1C", b:"#3A6AA8"};
  const arc = d3.arc();
  let cur = 90.6;
  const sectors = chrLens.map((len, i) => {
    const a0 = cur, a1 = cur + widthAngle(len);
    cur = a1 + 1.2;
    return {i, len, a0, a1};
  });

  // every read value holds a flat bin along the chromosome, short ramps between bins
  function track(vals, s, R, base, color, opacity) {
    const raw = vals[s.i], n = raw.length, pts = [];
    raw.forEach((v, k) => {
      if (v == null) { pts.push({v: null, f: k / n}); return; }
      const lo = (k === 0 || raw[k - 1] == null) ? k / n : (k + .12) / n;
      const hi = k === n - 1 ? 1 : (k + .88) / n;
      pts.push({v, f: lo}, {v, f: (lo + hi) / 2}, {v, f: hi});
    });
    const area = d3.areaRadial()
      .defined(d => d.v != null)
      .angle(d => rad(s.a0 + d.f * (s.a1 - s.a0)))
      .innerRadius(R(base)).outerRadius(d => R(d.v));
    g.append("path").attr("d", area(pts)).attr("fill", color).attr("fill-opacity", opacity);
  }

  sectors.forEach(s => {
    track(outerDel, s, R2, 5, DEL, .55);
    track(outerAmp, s, R2, 5, AMP, .55);
    track(innerDel, s, R1, 3, DEL, .55);
    track(innerAmp, s, R1, 3, AMP, .55);
    [[87, 208], [216, 347]].forEach(r => {
      g.append("path").attr("d", arc({innerRadius: r[0], outerRadius: r[1], startAngle: rad(s.a0), endAngle: rad(s.a1)}))
        .attr("fill", "none").attr("stroke", "#000").attr("stroke-width", 1.5);
    });
    // ideogram
    const bands = chrBands[s.i].split("");
    const bw = (s.a1 - s.a0) / bands.length;
    g.append("g").selectAll("path").data(bands).enter().append("path")
      .attr("d", (b, k) => arc({innerRadius: 357, outerRadius: 370, startAngle: rad(s.a0 + k * bw), endAngle: rad(s.a0 + (k + 1) * bw)}))
      .attr("fill", b => bandFill[b]);
    g.append("path").attr("d", arc({innerRadius: 357, outerRadius: 370, startAngle: rad(s.a0), endAngle: rad(s.a1)}))
      .attr("fill", "none").attr("stroke", "#111").attr("stroke-width", 1);

    // axis ring
    const mb = d3.scaleLinear().domain([0, s.len]).range([s.a0, s.a1]);
    g.append("path").attr("d", arc({innerRadius: 373, outerRadius: 373, startAngle: rad(s.a0), endAngle: rad(s.a1)}))
      .attr("fill", "none").attr("stroke", "#111").attr("stroke-width", 1);
    d3.range(0, s.len, 30).forEach(t => {
      const a = rad(mb(t)), major = t % 90 === 0, r2 = major ? 380 : 376.5;
      g.append("line").attr("x1", 373 * Math.sin(a)).attr("y1", -373 * Math.cos(a))
        .attr("x2", r2 * Math.sin(a)).attr("y2", -r2 * Math.cos(a)).attr("stroke", "#111").attr("stroke-width", 1);
      if (major) {
        // labels at the sector ends stay inside their own sector
        let at = mb(t);
        if (t === 0) at += 2.2;
        else if (s.a1 - at < 2.6) at -= 2;
        polarText(at, 389, t + "Mb", 12.4);
      }
    });
    polarText((s.a0 + s.a1) / 2, 413, chrNames[s.i], 32);
  });

  function polarText(deg, r, s, size) {
    const d = ((deg % 360) + 360) % 360, a = rad(d);
    const rot = (d > 90 && d < 240) ? d - 180 : d;
    g.append("text").attr("transform", `translate(${r * Math.sin(a)},${-r * Math.cos(a)}) rotate(${rot})`)
      .attr("text-anchor", "middle").attr("dominant-baseline", "central")
      .attr("font-family", SERIF).attr("font-size", size).attr("fill", "#111").text(s);
  }

  txt(FRAME, 1586.8, 961, "CNV", {font: SERIF, size: 25, weight: "bold", anchor: "middle"});
  FRAME.append("rect").attr("x", 1561.5).attr("y", 984).attr("width", 22.5).attr("height", 23.7).attr("fill", DEL);
  FRAME.append("rect").attr("x", 1561.5).attr("y", 1011.6).attr("width", 22.5).attr("height", 24.2).attr("fill", AMP);
  txt(FRAME, 1592, 996.5, "Del", {font: SERIF, size: 25});
  txt(FRAME, 1592, 1023.4, "Amp", {font: SERIF, size: 25});
})();

// ---------- CNV matrices ----------
function cnvPanel(c) {
  const g = FRAME.append("g");
  const X = d3.scaleLinear().domain([0, c.n]).range([c.x0, c.x1]);
  const Y = d3.scaleBand().domain(c.genes).range([1294.3, 1609.3]).paddingInner(0.125);
  const YT = d3.scaleLinear().domain([0, 20]).range([1288.7, 1197.3]);

  const bar = (runs, fill, stroke) => g.append("g").selectAll("rect").data(runs).enter().append("rect")
    .attr("x", d => X(d[0])).attr("width", d => X(d[1]) - X(d[0]))
    .attr("y", d => YT(d[2])).attr("height", d => YT(0) - YT(d[2]))
    .attr("fill", fill).attr("stroke", stroke || "none").attr("stroke-width", .6);
  bar(c.topAmp, AMP_SOFT, "#EE3A42");
  bar(c.topDel, DEL_SOFT);

  const ax = g.append("g").attr("transform", `translate(${c.x0},0)`)
    .call(d3.axisLeft(YT).tickValues([0, 5, 10, 15, 20]).tickSize(5).tickSizeOuter(0).tickPadding(2));
  styleAxis(ax, SERIF, 13, 1.1);
  g.append("line").attr("x1", c.x0).attr("x2", c.x0).attr("y1", 1192.3).attr("y2", 1288.7).attr("stroke", "#111").attr("stroke-width", 1.3);

  c.rows.forEach((row, i) => {
    const cells = row.split(" ").map(parseTok);
    g.append("g").selectAll("rect").data(cells).enter().append("rect")
      .attr("x", d => X(d.start)).attr("width", d => X(d.end + 1) - X(d.start))
      .attr("y", Y(c.genes[i])).attr("height", Y.bandwidth())
      .attr("fill", d => d.type === "a" ? "#F27C81" : DEL_SOFT)
      .attr("stroke", d => d.type === "a" ? "#EF4A51" : "none").attr("stroke-width", .5);
    const yc = Y(c.genes[i]) + Y.bandwidth() / 2;
    txt(g, c.pctX, yc, c.pct[i], {font: SERIF, size: 16.8, anchor: "end"});
    txt(g, c.geneX, yc, c.genes[i], {font: SERIF, size: 20});
  });

  const XS = d3.scaleLinear().domain([0, c.sideTicks[c.sideTicks.length - 1]]).range([c.sideX0, c.sideXTick]);
  c.del.forEach((d, i) => {
    const y = Y(c.genes[i]) + Y.bandwidth() / 2 - 5;
    g.append("rect").attr("x", XS(0)).attr("width", XS(d) - XS(0)).attr("y", y).attr("height", 10).attr("fill", DEL);
    g.append("rect").attr("x", XS(d)).attr("width", XS(d + c.amp[i]) - XS(d)).attr("y", y).attr("height", 10).attr("fill", AMP);
  });
  const as = g.append("g").attr("transform", "translate(0,1292.7)")
    .call(d3.axisTop(XS).tickValues(c.sideTicks).tickSize(5).tickSizeOuter(0).tickPadding(2).tickFormat(d3.format("d")));
  as.select(".domain").remove();
  styleAxis(as, SERIF, 12.5, 1.1);
  g.append("line").attr("x1", c.sideX0).attr("x2", c.sideEnd).attr("y1", 1292.7).attr("y2", 1292.7).attr("stroke", "#111").attr("stroke-width", 1.1);

  // legend
  txt(g, c.leg.cnv, 1173.3, "CNV", {font: SERIF, size: 17, weight: "bold", anchor: "middle"});
  g.append("rect").attr("x", c.leg.del).attr("y", 1164.3).attr("width", 18).attr("height", 17.7).attr("fill", DEL);
  g.append("rect").attr("x", c.leg.amp).attr("y", 1164.3).attr("width", 18).attr("height", 17.7).attr("fill", AMP);
  txt(g, c.leg.delT, 1173.3, "Del", {font: SERIF, size: 17});
  txt(g, c.leg.ampT, 1173.3, "Amp", {font: SERIF, size: 17});
}
cnvPanel({
  n: 238, x0: 74.3, x1: 339, genes: genesG, pct: pctG, rows: cnvG, del: delG, amp: ampG,
  topAmp: topAmpG, topDel: topDelG, pctX: 69.2, geneX: 353,
  sideX0: 514, sideXTick: 600, sideEnd: 611, sideTicks: [0, 100, 200],
  leg: {cnv: 147, del: 176, amp: 234.5, delT: 199, ampT: 258.2}
});
cnvPanel({
  n: 186, x0: 705.3, x1: 924, genes: genesH, pct: pctH, rows: cnvH, del: delH, amp: ampH,
  topAmp: topAmpH, topDel: topDelH, pctX: 700.4, geneX: 991.4,
  sideX0: 1144.9, sideXTick: 1219.2, sideEnd: 1241.6, sideTicks: [0, 50, 100, 150],
  leg: {cnv: 782, del: 809.8, amp: 869, delT: 833.5, ampT: 893.5}
});
</script>
</body>
</html>
